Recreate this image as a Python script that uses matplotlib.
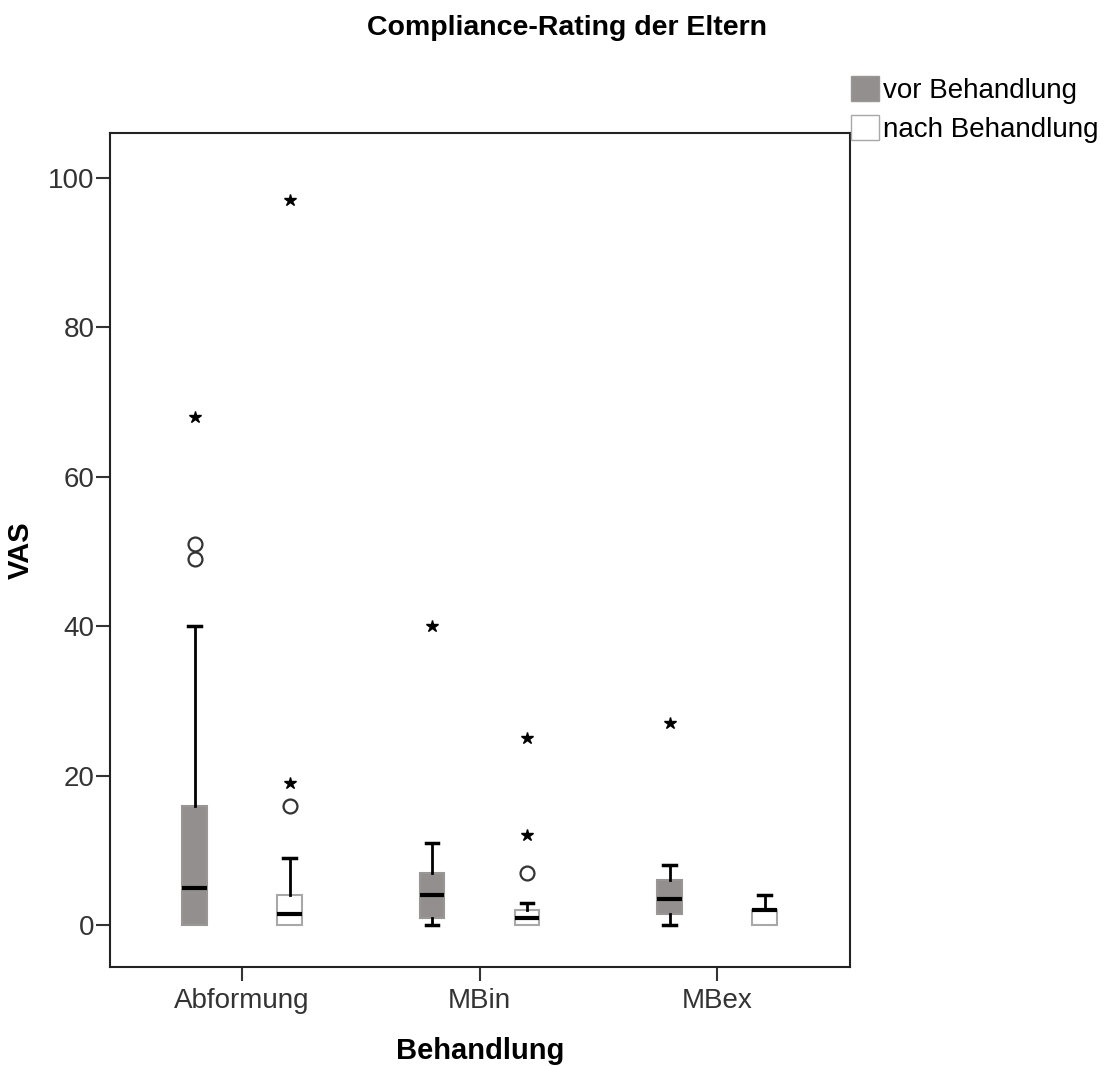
import matplotlib
matplotlib.use("Agg")
import matplotlib.pyplot as plt
from matplotlib.patches import Patch

plt.rcParams['font.family'] = ['Liberation Sans', 'DejaVu Sans']

# --- Data (VAS) ---
categories = ["Abformung", "MBin", "MBex"]
groups = ["vor Behandlung", "nach Behandlung"]

# box statistics per category: [vor, nach]
q1 = [[0, 0], [1, 0], [1.5, 0]]
median = [[5, 1.5], [4, 1], [3.5, 2]]
q3 = [[16, 4], [7, 2], [6, 2]]
whislo = [[0, 0], [0, 0], [0, 0]]
whishi = [[40, 9], [11, 3], [8, 4]]

# mild outliers (circles) and extreme values (stars)
circles = [[[49, 51], [16]], [[], [7]], [[], []]]
stars = [[[68], [19, 97]], [[40], [12, 25]], [[27], []]]

fill_colors = ["#938f8f", "white"]
edge_colors = ["#9a9696", "#a8a8a8"]

fig = plt.figure(figsize=(11.06, 10.66), dpi=100)
ax = fig.add_axes([110 / 1106, 99 / 1066, 740 / 1106, 834 / 1066])

offsets = [-0.2, 0.2]
width = 0.105
for i, cat in enumerate(categories):
    for g in range(2):
        pos = i + 1 + offsets[g]
        stats = [dict(med=median[i][g], q1=q1[i][g], q3=q3[i][g],
                      whislo=whislo[i][g], whishi=whishi[i][g], fliers=[])]
        parts = ax.bxp(stats, positions=[pos], widths=width, patch_artist=True,
                       showfliers=False,
                       boxprops=dict(facecolor=fill_colors[g], edgecolor=edge_colors[g], linewidth=1.5),
                       medianprops=dict(color="black", linewidth=3),
                       whiskerprops=dict(color="black", linewidth=2),
                       capprops=dict(color="black", linewidth=2.5),
                       capwidths=width * 0.5)
        # no whisker/cap when it coincides with the box edge
        if whislo[i][g] == q1[i][g]:
            parts["caps"][0].set_visible(False)
            parts["whiskers"][0].set_visible(False)
        if whishi[i][g] == q3[i][g]:
            parts["caps"][1].set_visible(False)
            parts["whiskers"][1].set_visible(False)
        if circles[i][g]:
            ax.plot([pos] * len(circles[i][g]), circles[i][g], linestyle="none",
                    marker="o", markersize=10, markerfacecolor="white",
                    markeredgecolor="#333333", markeredgewidth=1.6)
        if stars[i][g]:
            ax.plot([pos] * len(stars[i][g]), stars[i][g], linestyle="none",
                    marker="*", markersize=9, color="black")

ax.set_xlim(0.444, 3.56)
ax.set_ylim(-5.6, 106)
ax.set_xticks([1, 2, 3])
ax.set_xticklabels(categories)
ax.set_yticks(range(0, 101, 20))
ax.tick_params(axis="both", direction="out", labelsize=20, colors="#333333",
               width=1.5)
ax.tick_params(axis="x", length=10, pad=5)
ax.tick_params(axis="y", length=10, pad=1)
for s in ax.spines.values():
    s.set_linewidth(1.5)
    s.set_color("#222222")

ax.set_xlabel("Behandlung", fontsize=21, fontweight="bold", labelpad=17)
ax.set_ylabel("VAS", fontsize=21, fontweight="bold", labelpad=10)
fig.text(567 / 1106, 1 - 28 / 1066, "Compliance-Rating der Eltern",
         ha="center", va="center", fontsize=20.5, fontweight="bold")

handles = [Patch(facecolor=fill_colors[0], edgecolor=edge_colors[0]),
           Patch(facecolor=fill_colors[1], edgecolor=edge_colors[1])]
fig.legend(handles, groups, loc="upper left",
           bbox_to_anchor=(851 / 1106, 1 - 76 / 1066), frameon=False,
           fontsize=20, handlelength=1.0, handleheight=1.0,
           handletextpad=0.15, borderpad=0, borderaxespad=0, labelspacing=0.4)

fig.savefig("out.png", dpi=100)
